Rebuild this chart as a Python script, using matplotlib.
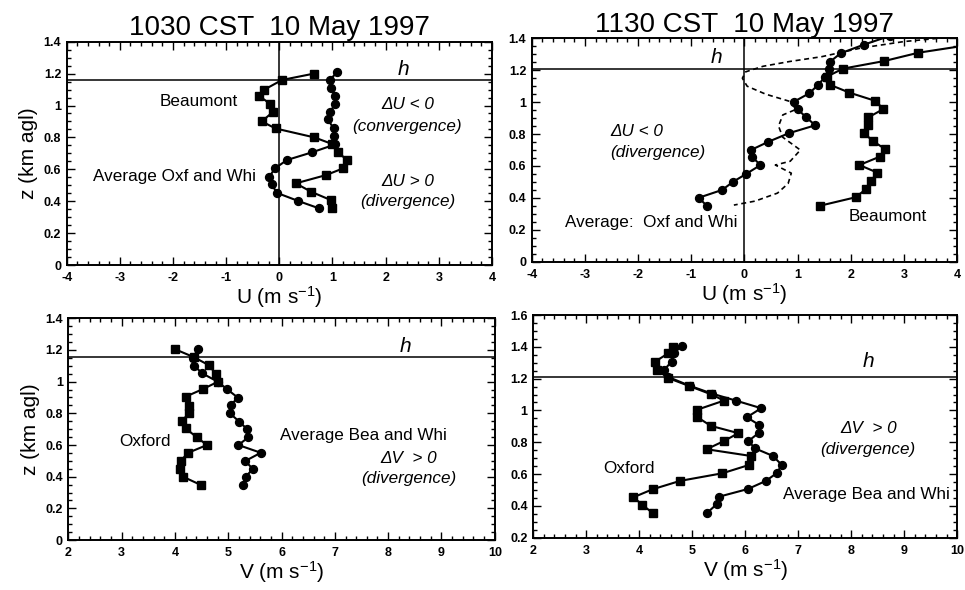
import matplotlib
matplotlib.use("Agg")
import matplotlib.pyplot as plt
from matplotlib.ticker import MultipleLocator, FuncFormatter

plt.rcParams['font.family'] = ['Liberation Sans', 'DejaVu Sans']
plt.rcParams['mathtext.fontset'] = 'custom'
plt.rcParams['mathtext.rm'] = 'Liberation Sans'
plt.rcParams['mathtext.it'] = 'Liberation Sans:italic'

# ---------------- Panel 1 : 1030 CST, U ----------------
p1_bea_z = [1.20, 1.16, 1.10, 1.06, 1.01, 0.96, 0.90, 0.856, 0.80, 0.758, 0.71, 0.658, 0.606, 0.564, 0.512, 0.459, 0.407, 0.359]
p1_bea_u = [0.65, 0.05, -0.28, -0.38, -0.17, -0.12, -0.33, -0.07, 0.66, 1.00, 1.10, 1.27, 1.20, 0.88, 0.31, 0.60, 0.97, 1.00]
p1_avg_z = [1.207, 1.16, 1.11, 1.06, 1.007, 0.96, 0.913, 0.858, 0.808, 0.756, 0.706, 0.658, 0.606, 0.553, 0.506, 0.453, 0.401, 0.355]
p1_avg_u = [1.08, 0.95, 0.97, 1.05, 1.05, 0.95, 0.91, 1.02, 1.02, 1.05, 0.61, 0.14, -0.08, -0.19, -0.14, -0.05, 0.36, 0.75]
p1_h = 1.163

# ---------------- Panel 2 : 1130 CST, U ----------------
p2_avg_z = [1.415, 1.36, 1.307, 1.254, 1.208, 1.16, 1.108, 1.056, 1.003, 0.955, 0.905, 0.855,
            0.805, 0.752, 0.70, 0.658, 0.606, 0.55, 0.502, 0.45, 0.401, 0.351]
p2_avg_u = [2.73, 2.24, 1.81, 1.61, 1.58, 1.52, 1.38, 1.22, 0.93, 1.00, 1.16, 1.33,
            0.83, 0.45, 0.12, 0.14, 0.30, 0.03, -0.21, -0.42, -0.86, -0.71]
p2_bea_z = [1.36, 1.31, 1.258, 1.21, 1.16, 1.11, 1.06, 1.008, 0.957, 0.905, 0.86, 0.809,
            0.757, 0.707, 0.658, 0.606, 0.558, 0.508, 0.454, 0.404, 0.351]
p2_bea_u = [4.25, 3.27, 2.63, 1.85, 1.55, 1.60, 1.97, 2.46, 2.61, 2.33, 2.32, 2.24,
            2.41, 2.64, 2.54, 2.16, 2.50, 2.38, 2.28, 2.09, 1.42]
p2_diff_z = [1.41, 1.38, 1.34, 1.285, 1.255, 1.225, 1.19, 1.15, 1.10, 1.05, 1.005, 0.955, 0.92,
             0.85, 0.78, 0.70, 0.63, 0.606, 0.555, 0.49, 0.43, 0.38, 0.355]
p2_diff_u = [3.95, 3.00, 2.20, 1.45, 0.85, 0.35, 0.02, -0.04, 0.05, 0.40, 0.85, 0.97, 0.72,
             0.64, 0.72, 1.05, 0.86, 0.58, 0.88, 0.82, 0.62, 0.20, -0.20]
p2_h = 1.208

# ---------------- Panel 3 : 1030 CST, V ----------------
p3_oxf_z = [1.205, 1.154, 1.105, 1.049, 1.0, 0.954, 0.905, 0.848, 0.80, 0.754, 0.705, 0.649,
            0.60, 0.551, 0.501, 0.449, 0.40, 0.347]
p3_oxf_v = [4.00, 4.36, 4.63, 4.77, 4.81, 4.53, 4.20, 4.27, 4.27, 4.13, 4.20, 4.41,
            4.60, 4.25, 4.11, 4.10, 4.15, 4.49]
p3_avg_z = [1.205, 1.152, 1.101, 1.053, 1.0, 0.952, 0.899, 0.853, 0.80, 0.747, 0.701, 0.649,
            0.60, 0.551, 0.499, 0.449, 0.40, 0.347]
p3_avg_v = [4.44, 4.33, 4.36, 4.51, 4.80, 4.98, 5.18, 5.05, 5.03, 5.21, 5.35, 5.38,
            5.19, 5.61, 5.32, 5.46, 5.33, 5.28]
p3_h = 1.154

# ---------------- Panel 4 : 1130 CST, V ----------------
p4_oxf_z = [1.401, 1.36, 1.307, 1.255, 1.203, 1.154, 1.102, 1.062, 1.003, 0.961, 0.903, 0.857,
            0.808, 0.756, 0.714, 0.657, 0.605, 0.557, 0.504, 0.454, 0.406, 0.353]
p4_oxf_v = [4.63, 4.55, 4.30, 4.33, 4.55, 4.94, 5.35, 5.60, 5.08, 5.08, 5.35, 5.87,
            5.60, 5.27, 6.10, 6.07, 5.57, 4.77, 4.25, 3.89, 4.06, 4.26]
p4_avg_z = [1.408, 1.36, 1.307, 1.255, 1.21, 1.155, 1.105, 1.062, 1.014, 0.957, 0.909, 0.86,
            0.808, 0.762, 0.714, 0.657, 0.605, 0.557, 0.506, 0.458, 0.41, 0.353]
p4_avg_v = [4.81, 4.65, 4.61, 4.47, 4.55, 4.95, 5.38, 5.82, 6.30, 6.03, 6.26, 6.26,
            6.06, 6.18, 6.52, 6.69, 6.59, 6.39, 6.05, 5.51, 5.46, 5.27]
p4_h = 1.213

titles = ["1030 CST  10 May 1997", "1130 CST  10 May 1997"]
xlab_u = "U (m s$^{-1}$)"
xlab_v = "V (m s$^{-1}$)"
ylab = "z (km agl)"

fig = plt.figure(figsize=(9.65, 5.9), dpi=100)

ax1 = fig.add_axes([0.0691, 0.5508, 0.4407, 0.3785])
ax2 = fig.add_axes([0.5510, 0.5564, 0.4410, 0.3786])
ax3 = fig.add_axes([0.0708, 0.0847, 0.4419, 0.3758])
ax4 = fig.add_axes([0.5526, 0.0887, 0.4394, 0.3774])

fmt = FuncFormatter(lambda v, p: ("%g" % round(v, 3)))

def style(ax, xlim, ylim):
    ax.set_xlim(*xlim)
    ax.set_ylim(*ylim)
    ax.xaxis.set_major_locator(MultipleLocator(1))
    ax.xaxis.set_minor_locator(MultipleLocator(0.2))
    ax.yaxis.set_major_locator(MultipleLocator(0.2))
    ax.yaxis.set_minor_locator(MultipleLocator(0.05))
    ax.xaxis.set_major_formatter(fmt)
    ax.yaxis.set_major_formatter(fmt)
    ax.tick_params(which='both', direction='in', top=True, right=True, width=1.0,
                   labelsize=9)
    ax.tick_params(axis='x', pad=5)
    ax.tick_params(axis='y', pad=4)
    ax.tick_params(which='major', length=6)
    ax.tick_params(which='minor', length=3)
    for lab in ax.get_xticklabels() + ax.get_yticklabels():
        lab.set_fontweight('bold')
    for s in ax.spines.values():
        s.set_linewidth(1.4)

sq = dict(color='k', marker='s', markersize=6.3, lw=1.5)
ci = dict(color='k', marker='o', markersize=5.7, lw=1.5)
ann = dict(fontsize=12.3, ha='center', va='center')
annit = dict(fontsize=12.3, ha='center', va='center', style='italic')

# Panel 1
style(ax1, (-4, 4), (0, 1.4))
ax1.axvline(0, color='k', lw=1.1)
ax1.axhline(p1_h, color='k', lw=1.1)
ax1.plot(p1_bea_u, p1_bea_z, **sq)
ax1.plot(p1_avg_u, p1_avg_z, **ci)
ax1.text(2.34, 1.225, "h", fontsize=15, style='italic', ha='center', va='center')
ax1.text(-1.52, 1.023, "Beaumont", **ann)
ax1.text(-1.98, 0.553, "Average Oxf and Whi", **ann)
ax1.text(2.41, 1.007, "\u0394U < 0", **annit)
ax1.text(2.41, 0.871, "(convergence)", **annit)
ax1.text(2.41, 0.526, "\u0394U > 0", **annit)
ax1.text(2.41, 0.40, "(divergence)", **annit)
ax1.set_xlabel(xlab_u, fontsize=15, labelpad=0)
ax1.set_ylabel(ylab, fontsize=15, labelpad=4)
ax1.set_title(titles[0], fontsize=20, pad=5)

# Panel 2
style(ax2, (-4, 4), (0, 1.4))
ax2.axvline(0, color='k', lw=1.1)
ax2.axhline(p2_h, color='k', lw=1.1)
ax2.plot(p2_diff_u, p2_diff_z, color='k', lw=1.2, ls=(0, (3, 2.2)))
ax2.plot(p2_bea_u, p2_bea_z, **sq)
ax2.plot(p2_avg_u, p2_avg_z, **ci)
ax2.text(-0.52, 1.28, "h", fontsize=15, style='italic', ha='center', va='center')
ax2.text(-2.02, 0.815, "\u0394U < 0", **annit)
ax2.text(-1.62, 0.683, "(divergence)", **annit)
ax2.text(-1.76, 0.245, "Average:  Oxf and Whi", **ann)
ax2.text(2.69, 0.282, "Beaumont", **ann)
ax2.set_xlabel(xlab_u, fontsize=15, labelpad=0)
ax2.set_title(titles[1], fontsize=20, pad=3)

# Panel 3
style(ax3, (2, 10), (0, 1.4))
ax3.axhline(p3_h, color='k', lw=1.1)
ax3.plot(p3_oxf_v, p3_oxf_z, **sq)
ax3.plot(p3_avg_v, p3_avg_z, **ci)
ax3.text(8.32, 1.221, "h", fontsize=15, style='italic', ha='center', va='center')
ax3.text(3.44, 0.621, "Oxford", **ann)
ax3.text(7.53, 0.663, "Average Bea and Whi", **ann)
ax3.text(8.38, 0.516, "\u0394V  > 0", **annit)
ax3.text(8.38, 0.39, "(divergence)", **annit)
ax3.set_xlabel(xlab_v, fontsize=15, labelpad=0)
ax3.set_ylabel(ylab, fontsize=15, labelpad=4)

# Panel 4
style(ax4, (2, 10), (0.2, 1.6))
ax4.axhline(p4_h, color='k', lw=1.1)
ax4.plot(p4_oxf_v, p4_oxf_z, **sq)
ax4.plot(p4_avg_v, p4_avg_z, **ci)
ax4.text(8.32, 1.307, "h", fontsize=15, style='italic', ha='center', va='center')
ax4.text(3.81, 0.636, "Oxford", **ann)
ax4.text(8.29, 0.469, "Average Bea and Whi", **ann)
ax4.text(8.32, 0.888, "\u0394V  > 0", **annit)
ax4.text(8.32, 0.756, "(divergence)", **annit)
ax4.set_xlabel(xlab_v, fontsize=15, labelpad=0)

fig.savefig("out.png", dpi=100)
